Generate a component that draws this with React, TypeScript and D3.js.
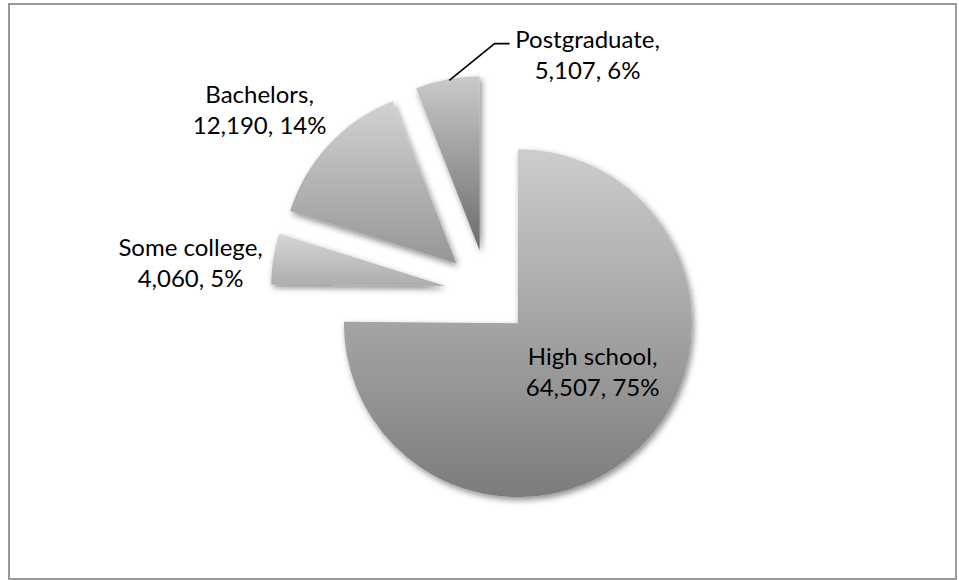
import React from "react";
import * as d3 from "d3";

const categories = ["High school", "Some college", "Bachelors", "Postgraduate"];
const values = [64507, 4060, 12190, 5107];
const gradTop = ["#cdcdcd", "#d6d6d6", "#d2d2d2", "#cacaca"];
const gradBottom = ["#7c7c7c", "#adadad", "#969696", "#6b6b6b"];

const W = 959;
const H = 580;
const CX = 487.6;
const CY = 292.6;
const R = 174;
const EXPLODE = 43;
const FONT = "Lato, 'Open Sans', sans-serif";
const FS = 24;
const LINE = 31;

// label anchor offsets (layout) relative to pie centre, centre of the two-line block
const labelOffsets: [number, number][] = [
  [105, 86],
  [-297, -23],
  [-228, -176],
  [100, -231],
];

export default function App() {
  const total = d3.sum(values);
  const pie = d3
    .pie<number>()
    .sort(null)
    .value((d) => d)
    .startAngle(0)
    .endAngle(2 * Math.PI);
  const arcs = pie(values);
  const arc = d3.arc<d3.PieArcDatum<number>>().innerRadius(0).outerRadius(R);
  const fmt = d3.format(",");

  return (
    <svg
      width={W}
      height={H}
      style={{ position: "absolute", left: 0, top: 0, background: "#fff" }}
    >
      <defs>
        {arcs.map((a, i) => (
          <linearGradient key={i} id={`g${i}`} x1="0" y1="0" x2="0" y2="1">
            <stop offset="0" stopColor={gradTop[i]} />
            <stop offset="1" stopColor={gradBottom[i]} />
          </linearGradient>
        ))}
        <filter id="shadow" x="-20%" y="-20%" width="140%" height="140%">
          <feDropShadow dx="2" dy="3" stdDeviation="3" floodColor="#000" floodOpacity="0.45" />
        </filter>
      </defs>
      <rect x={9} y={4} width={947} height={575} fill="#fff" stroke="#9a9a9a" strokeWidth={2} />
      <g transform={`translate(${CX},${CY})`}>
        {arcs.map((a, i) => {
          const mid = (a.startAngle + a.endAngle) / 2;
          const dx = Math.sin(mid) * EXPLODE;
          const dy = -Math.cos(mid) * EXPLODE;
          return (
            <path
              key={i}
              d={arc(a) || ""}
              transform={`translate(${dx},${dy})`}
              fill={`url(#g${i})`}
              filter="url(#shadow)"
            />
          );
        })}
      </g>
      {(() => {
        // leader line for the Postgraduate label
        const a = arcs[3];
        const mid = (a.startAngle + a.endAngle) / 2;
        const px = CX + Math.sin(mid) * (EXPLODE + R) + 2;
        const py = CY - Math.cos(mid) * (EXPLODE + R) + 1;
        const lx = CX + labelOffsets[3][0] - 78;
        const ly = CY + labelOffsets[3][1] - 18;
        return (
          <path
            d={`M${px},${py}L${lx - 15},${ly}L${lx},${ly}`}
            fill="none"
            stroke="#000"
            strokeWidth={1.6}
          />
        );
      })()}
      {arcs.map((a, i) => {
        const x = CX + labelOffsets[i][0];
        const y = CY + labelOffsets[i][1];
        const pct = Math.round((values[i] / total) * 100);
        return (
          <text
            key={i}
            x={x}
            fontFamily={FONT}
            fontSize={FS}
            textAnchor="middle"
            fill="#000"
          >
            <tspan x={x} y={y - LINE / 2 + 2}>{`${categories[i]},`}</tspan>
            <tspan x={x} y={y + LINE / 2 + 2}>{`${fmt(values[i])}, ${pct}%`}</tspan>
          </text>
        );
      })}
    </svg>
  );
}
